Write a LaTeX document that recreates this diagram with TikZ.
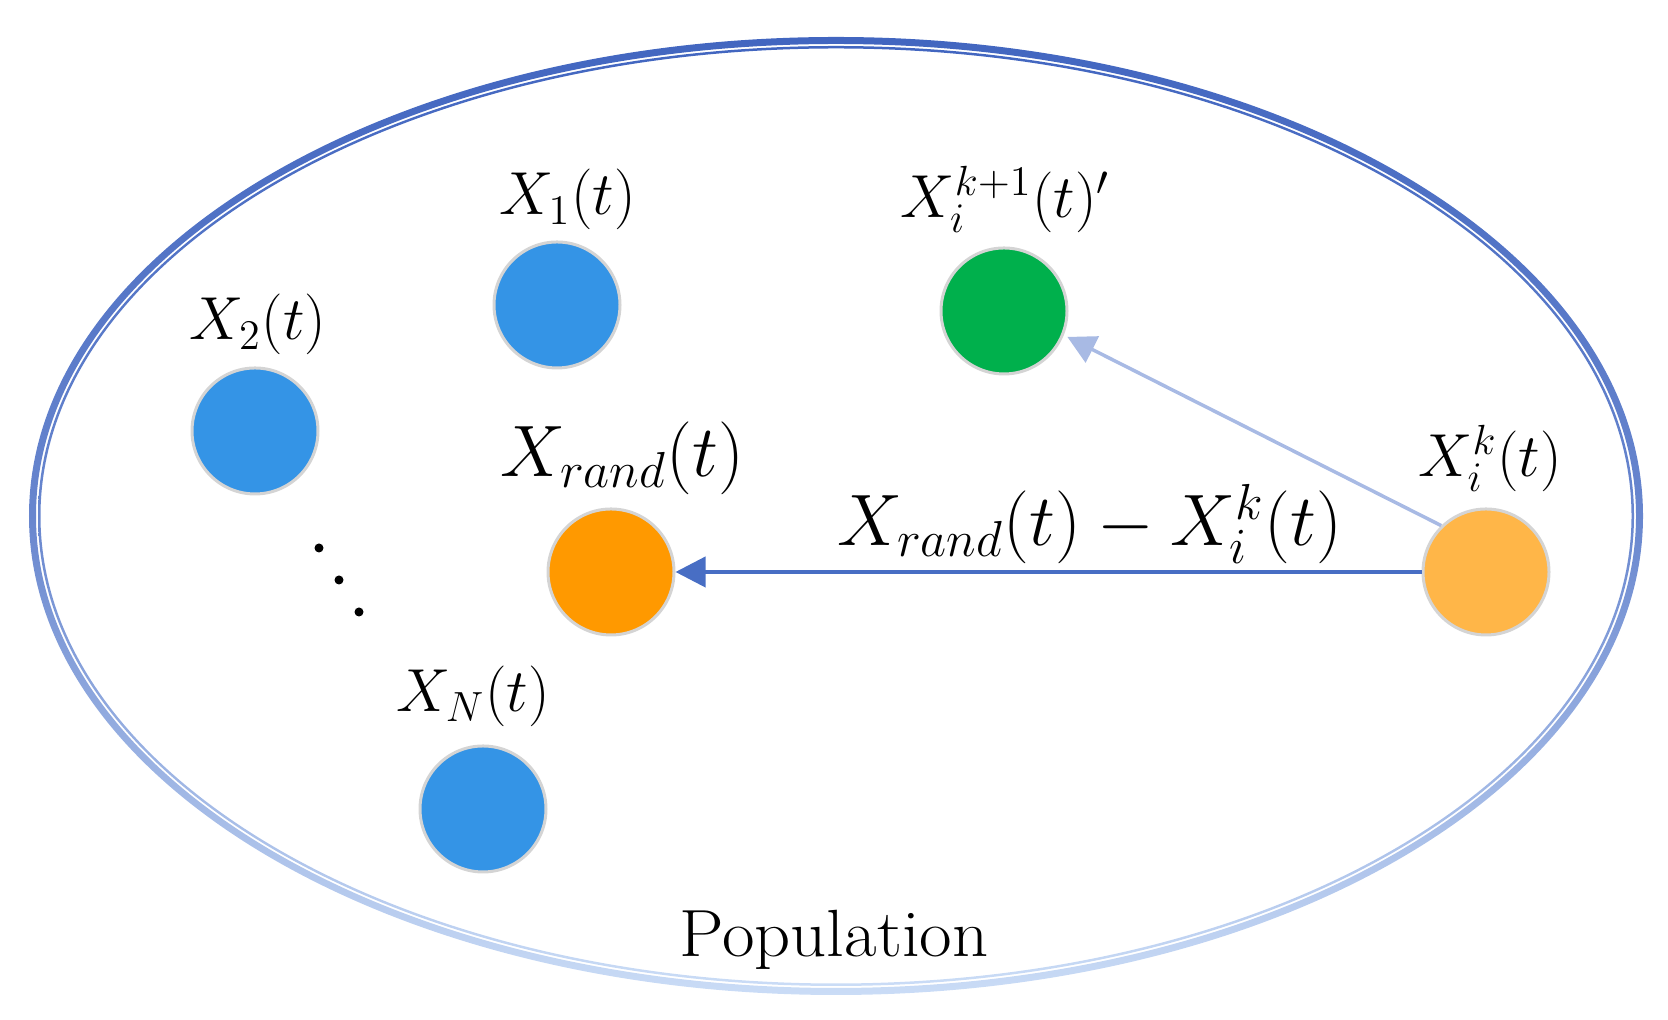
\documentclass[tikz,border=0pt]{standalone}
\usepackage{fontspec}
\usetikzlibrary{arrows.meta}
\definecolor{ballblue}{RGB}{52,148,230}
\definecolor{ballorange}{RGB}{255,153,0}
\definecolor{balllight}{RGB}{255,182,72}
\definecolor{ballgreen}{RGB}{0,176,76}
\definecolor{ballrim}{RGB}{212,212,212}
\definecolor{ringtop}{RGB}{66,102,192}
\definecolor{ringmid}{RGB}{104,134,206}
\definecolor{ringbot}{RGB}{202,220,246}
\definecolor{arrowdark}{RGB}{72,110,196}
\definecolor{arrowlight}{RGB}{168,186,228}
\begin{document}
\begin{tikzpicture}[
  ball/.style={circle, minimum size=1.26cm, inner sep=0pt, draw=ballrim, line width=0.03cm},
  lab/.style={anchor=base, inner sep=0pt, font=\fontsize{#1}{#1}\selectfont},
  lab/.default=18.5,
  darrow/.style={draw=arrowdark, line width=0.04cm, -{Triangle[length=0.30cm,width=0.30cm]}},
  larrow/.style={draw=arrowlight, line width=0.035cm, -{Triangle[length=0.28cm,width=0.29cm]}},
  ring/.style={top color=ringtop, bottom color=ringbot, middle color=ringmid, even odd rule}
]
\useasboundingbox (0,0) rectangle (16.68,10.20);
\coordinate (ec) at (8.36,5.04);
% population ellipse (double ring)
\shade[ring] (ec) ellipse [x radius=8.07cm, y radius=4.79cm]
             (ec) ellipse [x radius=8.0cm, y radius=4.72cm];
\shade[ring] (ec) ellipse [x radius=7.98cm, y radius=4.70cm]
             (ec) ellipse [x radius=7.955cm, y radius=4.675cm];

% individuals
\node[ball, fill=ballblue]   (x1)    at (5.57,7.15) {};
\node[ball, fill=ballblue]   (x2)    at (2.55,5.89) {};
\node[ball, fill=ballorange] (xrand) at (6.11,4.48) {};
\node[ball, fill=ballblue]   (xn)    at (4.83,2.11) {};
\node[ball, fill=ballgreen]  (xnew)  at (10.04,7.09) {};
\node[ball, fill=balllight]  (xik)   at (14.86,4.48) {};

% labels
\node[lab] (l1)        at (5.675,8.05) {$X_1(t)$};
\node[lab] (l2)        at (2.58,6.80) {$X_2(t)$};
\node[lab=22.5] (lrand) at (6.225,5.43) {$X_{rand}(t)$};
\node[lab] (lnew)      at (10.055,8.02) {$X_i^{k+1}(t)'$};
\node[lab=18.8] (lik)  at (14.90,5.43) {$X_i^k(t)$};
\node[lab] (ln)        at (4.73,3.08) {$X_N(t)$};
\node[lab=19.2] (ldiff) at (10.90,4.74) {$X_{rand}(t)-X_i^k(t)$};
\node[lab=19, xscale=1.06, transform shape] (lpop) at (8.34,0.63) {Population};

% dots
\fill (3.19,4.72) circle (0.045);
\fill (3.39,4.40) circle (0.045);
\fill (3.59,4.08) circle (0.045);

% arrows
\draw[darrow] (xik.west) -- (xrand.east);
\draw[larrow, shorten >=0.04cm] (xik.134) -- (xnew.-22);
\end{tikzpicture}
\end{document}
